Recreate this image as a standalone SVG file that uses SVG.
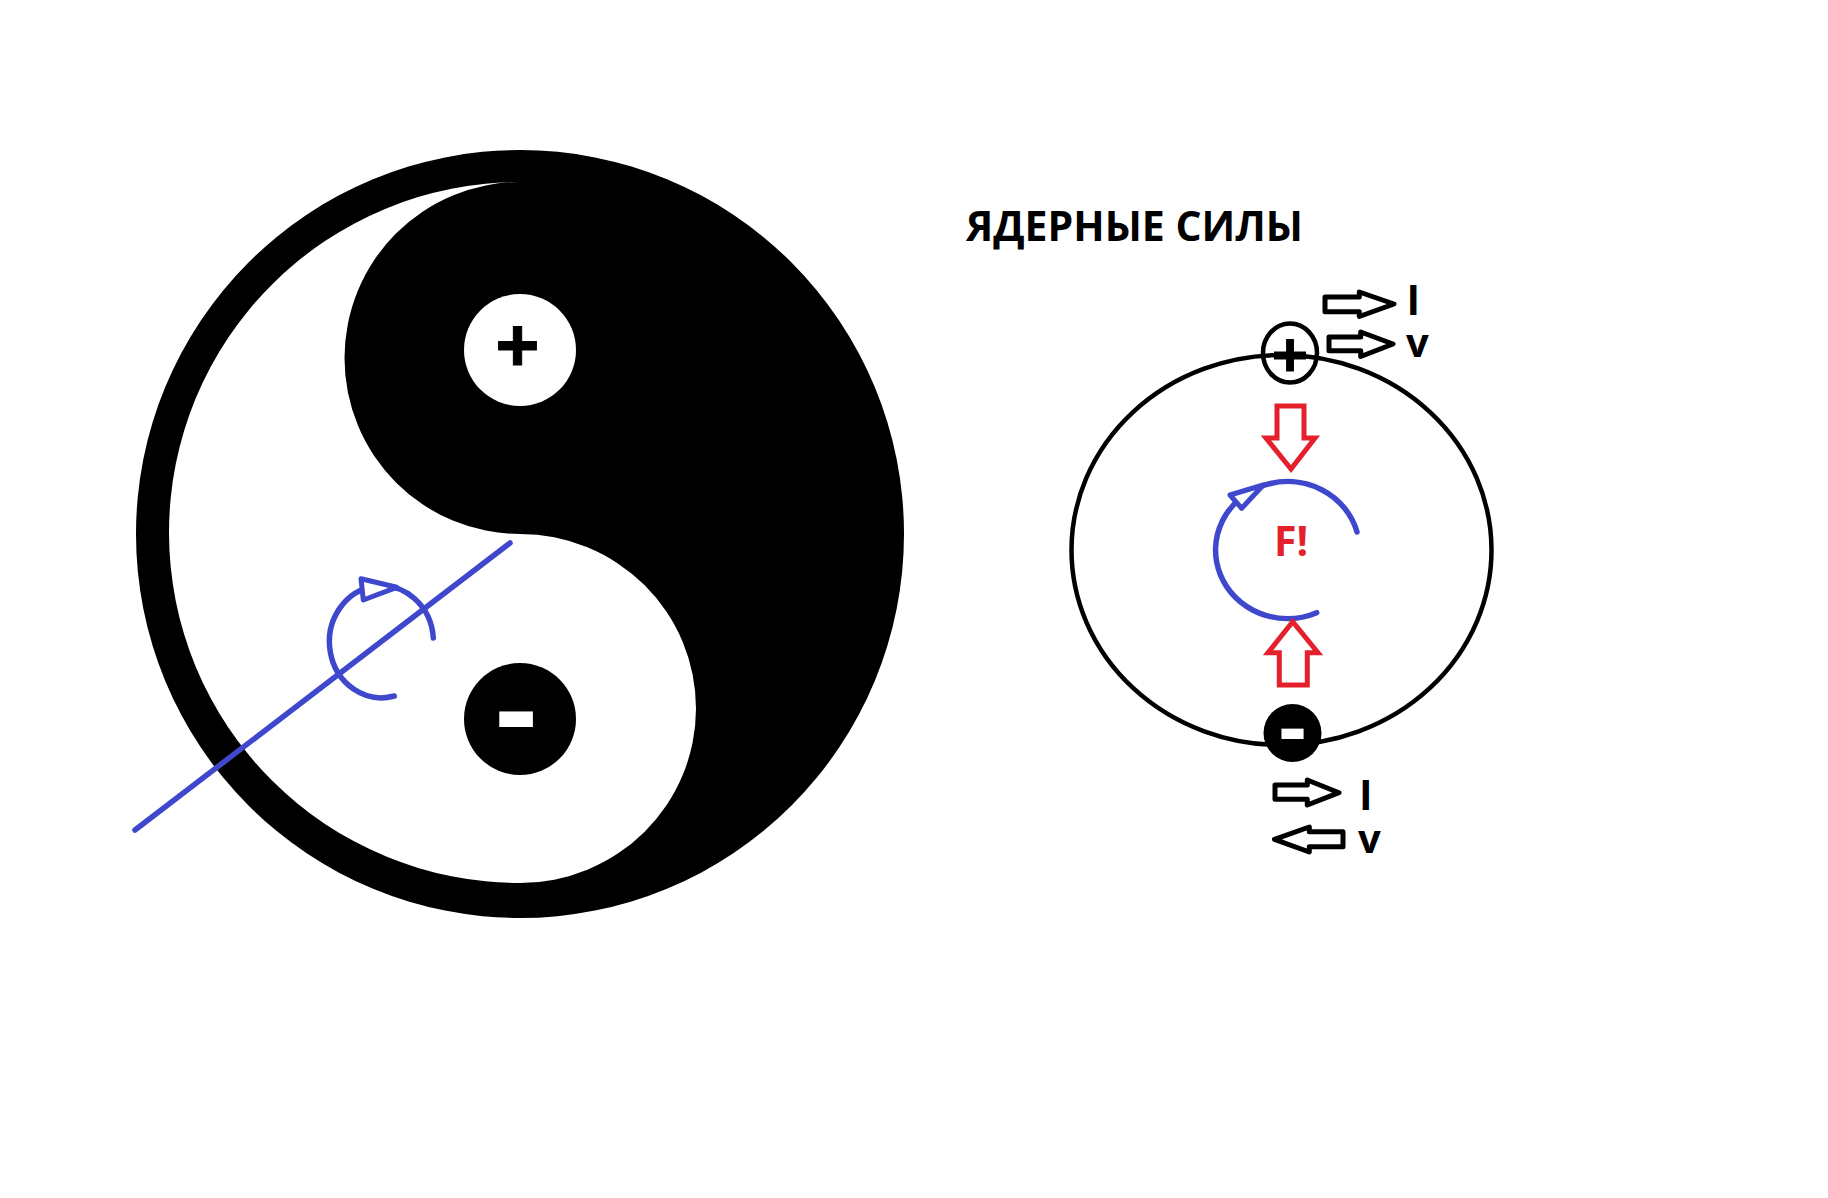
<svg xmlns="http://www.w3.org/2000/svg" width="1828" height="1198" viewBox="0 0 1828 1198">
<style>
text{font-family:"Open Sans","Liberation Sans",sans-serif;font-weight:700}
.k{fill:#000}
.w{fill:#fff}
.blue{fill:none;stroke:#3f48cc;stroke-width:5.5;stroke-linecap:round}
.tri{fill:#fff;stroke:#3f48cc;stroke-width:5;stroke-linejoin:round}
.bar{fill:#fff;stroke:#000;stroke-width:5;stroke-linejoin:round}
.red{fill:#fff;stroke:#e3202b;stroke-width:5;stroke-linejoin:miter}
.ring{fill:none;stroke:#000;stroke-width:4.5}
.m{text-anchor:middle}
</style>
<rect width="1828" height="1198" fill="#fff"/>
<g id="yin-yang">
<circle class="k" cx="520" cy="534" r="384"/>
<path class="w" d="M520 182 A351 350.5 0 0 0 520 883 A176 174.5 0 0 0 520 534 A175.5 176 0 0 1 520 182 Z"/>
</g>
<g id="pole-plus">
<circle class="w" cx="520" cy="350" r="56"/>
<text class="k m" x="517.5" y="374" font-size="78" stroke="#000" stroke-width="1">+</text>
</g>
<g id="pole-minus">
<circle class="k" cx="520" cy="719" r="56"/>
<text class="w m" x="516" y="753" font-size="128">-</text>
</g>
<text id="title" class="k" x="966" y="241" font-size="41">ЯДЕРНЫЕ СИЛЫ</text>
<g id="orbit"><ellipse class="ring" cx="1281.5" cy="550" rx="210" ry="195"/></g>
<g id="node-plus">
<ellipse cx="1290" cy="353" rx="27" ry="29.5" fill="none" stroke="#000" stroke-width="4.5"/>
<text class="k m" x="1290" y="378" font-size="64" stroke="#000" stroke-width="1">+</text>
</g>
<g id="node-minus">
<circle class="k" cx="1292.5" cy="733" r="29"/>
<text class="w m" x="1292.5" y="757" font-size="84">-</text>
</g>
<text id="label-f" x="1274" y="556" font-size="41" fill="#e3202b">F!</text>
<text id="label-i1" class="k" x="1406.5" y="315" font-size="41">I</text>
<text id="label-v1" class="k" x="1406" y="357" font-size="40">v</text>
<text id="label-i2" class="k" x="1359" y="810" font-size="41">I</text>
<text id="label-v2" class="k" x="1358" y="852.5" font-size="40">v</text>
<g id="connectors">
<path class="blue" d="M510 543 L135 830"/>
<path class="blue" d="M433.3 638 A52 56 0 1 0 394.3 696"/>
<polygon class="tri" points="361,578.7 363.3,600 396.7,587.3"/>
<path class="blue" d="M1357 532 A72 68.5 0 1 0 1316.7 612.7"/>
<polygon class="tri" points="1263.3,485 1230,495 1241.7,508.3"/>
<polygon class="bar" points="1325,297 1359.3,297 1359.3,292 1394,304 1359.3,316.5 1359.3,311.7 1325,311.7"/>
<polygon class="bar" points="1329,337 1360.7,337 1360.7,332 1393,344 1360.7,356.5 1360.7,350.7 1329,350.7"/>
<polygon class="bar" points="1275,785 1307.3,785 1307.3,780 1339,792.7 1307.3,805 1307.3,799.3 1275,799.3"/>
<polygon class="bar" points="1343,831.7 1309.3,831.7 1309.3,827 1274.5,839.3 1309.3,852 1309.3,846.7 1343,846.7"/>
<polygon class="red" points="1277,406 1304,406 1304,438 1315,438 1291,469 1266,438 1277,438"/>
<polygon class="red" points="1279.3,685 1307.3,685 1307.3,652.7 1318,652.7 1292.7,621.7 1268,652.7 1279.3,652.7"/>
</g>
</svg>
